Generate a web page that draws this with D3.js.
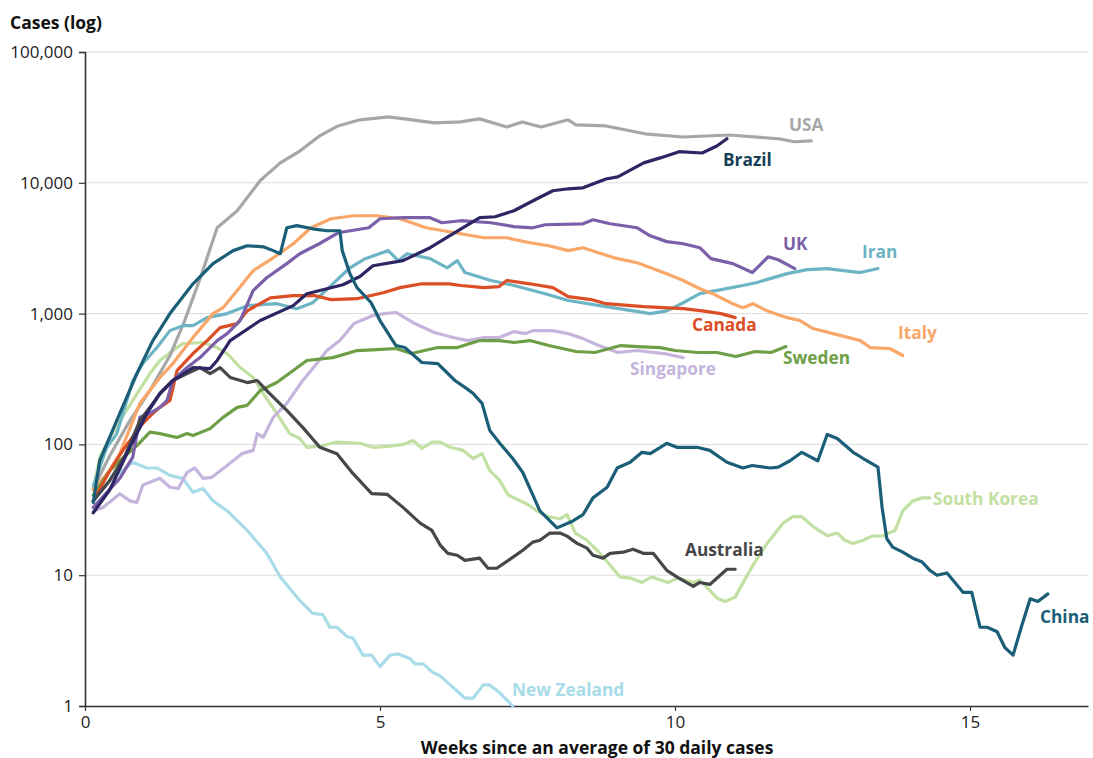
<!DOCTYPE html>
<html><head><meta charset="utf-8">
<script src="https://cdn.jsdelivr.net/npm/d3@7"></script>
<style>
body{margin:0;background:#fff;}
svg{font-family:"Open Sans","Noto Sans",sans-serif;}
</style></head>
<body><svg id="chart" width="1093" height="758"></svg>
<script>
// [weeks since avg of 30 daily cases, daily cases]
const usa=[[.14,46],[.42,82],[.76,152],[1.10,258],[1.44,478],[1.69,885],[1.95,1850],[2.24,4530],[2.58,6110],[2.97,10400],[3.31,14200],[3.64,17500],[3.98,22900],[4.29,27200],[4.66,30300],[5.14,31900],[5.42,30800],[5.92,28700],[6.36,29200],[6.69,30800],[7.15,26700],[7.41,29200],[7.73,26700],[8.19,30300],[8.32,27700],[8.83,27200],[9.49,23700],[10.14,22400],[10.92,23200],[11.76,21700],[12.02,20600],[12.31,20900]];
const brazil=[[.14,30],[.42,45],[.71,85],[1.05,173],[1.27,245],[1.49,308],[1.83,387],[2.12,380],[2.24,438],[2.46,622],[2.97,885],[3.53,1150],[3.76,1420],[4.10,1550],[4.37,1660],[4.66,1920],[4.88,2320],[5.39,2540],[5.85,3190],[6.24,4080],[6.69,5410],[6.95,5500],[7.27,6110],[7.66,7550],[7.93,8690],[8.19,9000],[8.44,9160],[8.83,10700],[9.03,11100],[9.47,14200],[9.75,15500],[10.07,17300],[10.46,16900],[10.71,19100],[10.88,21700]];
const uk=[[.14,33],[.59,55],[.81,80],[.93,161],[1.10,173],[1.27,192],[1.39,217],[1.49,308],[1.73,387],[1.95,461],[2.24,622],[2.41,703],[2.63,885],[2.85,1500],[3.08,1880],[3.42,2410],[3.64,2870],[3.97,3420],[4.29,4150],[4.81,4530],[5.00,5310],[5.39,5410],[5.85,5410],[6.05,4950],[6.37,5130],[6.88,4950],[7.27,4620],[7.59,4530],[7.80,4780],[8.44,4860],[8.61,5220],[8.90,4860],[9.36,4530],[9.58,3930],[9.86,3550],[10.14,3420],[10.42,3190],[10.61,2630],[10.98,2410],[11.31,2060],[11.58,2720],[11.75,2580],[12.03,2210]];
const italy=[[.14,45],[.42,63],[.59,85],[.93,206],[1.27,325],[1.49,415],[1.83,656],[2.17,1000],[2.34,1110],[2.58,1500],[2.85,2130],[3.19,2670],[3.53,3420],[3.83,4530],[4.17,5310],[4.56,5600],[4.95,5600],[5.34,5310],[5.78,4530],[6.37,4080],[6.76,3800],[7.15,3800],[7.54,3480],[7.86,3300],[8.19,3030],[8.44,3190],[8.97,2670],[9.36,2450],[9.86,2020],[10.14,1790],[10.42,1550],[10.64,1420],[10.98,1190],[11.15,1110],[11.32,1190],[11.56,1050],[11.90,931],[12.12,885],[12.34,769],[12.68,703],[13.14,622],[13.31,550],[13.64,541],[13.86,478]];
const iran=[[.14,48],[.37,95],[.54,121],[.81,308],[.98,415],[1.22,550],[1.44,741],[1.66,809],[1.83,809],[2.07,931],[2.41,1000],[2.75,1150],[3.25,1190],[3.59,1090],[3.86,1210],[4.20,1690],[4.49,2240],[4.75,2630],[5.14,3030],[5.31,2540],[5.46,2870],[5.85,2630],[6.14,2240],[6.31,2540],[6.44,2060],[6.88,1790],[7.27,1640],[7.80,1420],[8.19,1260],[8.83,1130],[9.29,1050],[9.58,1000],[9.86,1050],[10.14,1210],[10.42,1420],[10.76,1520],[11.15,1640],[11.39,1730],[11.90,2020],[12.24,2170],[12.58,2210],[13.14,2060],[13.44,2210]];
const canada=[[.14,37],[.42,63],[.64,90],[.98,145],[1.15,173],[1.27,192],[1.44,217],[1.56,367],[1.83,495],[2.07,622],[2.29,782],[2.58,839],[2.75,1050],[3.14,1320],[3.53,1370],[3.90,1370],[4.17,1280],[4.61,1300],[5.07,1450],[5.34,1580],[5.71,1690],[6.17,1690],[6.37,1640],[6.76,1580],[7.02,1610],[7.15,1790],[7.54,1690],[7.93,1580],[8.19,1350],[8.58,1280],[8.83,1190],[9.47,1130],[10.14,1090],[10.46,1050],[10.78,1000],[11.02,931]];
const china=[[.14,36],[.25,75],[.59,173],[.88,348],[1.15,622],[1.44,1000],[1.83,1690],[2.17,2410],[2.51,3030],[2.75,3300],[3.02,3240],[3.19,3030],[3.31,2870],[3.42,4530],[3.59,4700],[3.86,4450],[4.10,4300],[4.32,4300],[4.36,3030],[4.49,2020],[4.61,1580],[4.85,1210],[5.00,885],[5.27,570],[5.42,550],[5.71,423],[5.98,415],[6.27,308],[6.47,267],[6.58,245],[6.73,206],[6.86,128],[7.03,102],[7.25,78],[7.42,61],[7.58,42],[7.71,31],[8.00,23],[8.27,26],[8.44,29],[8.61,39],[8.85,47],[9.02,66],[9.24,73],[9.44,87],[9.58,85],[9.86,102],[10.03,95],[10.37,95],[10.59,90],[10.88,73],[11.15,66],[11.31,69],[11.61,66],[11.75,67],[11.95,75],[12.15,87],[12.42,75],[12.58,119],[12.75,111],[13.02,87],[13.19,78],[13.44,67],[13.51,33],[13.59,19],[13.69,16.4],[13.86,15],[14.03,13.5],[14.19,12.6],[14.32,10.9],[14.44,10],[14.61,10.4],[14.78,8.4],[14.88,7.4],[15.03,7.4],[15.17,4.0],[15.29,4.0],[15.46,3.7],[15.59,2.8],[15.73,2.45],[15.88,4.15],[16.02,6.6],[16.15,6.3],[16.32,7.2]];
const singapore=[[.14,31],[.31,33],[.59,42],[.76,37],[.88,36],[.98,49],[1.27,55],[1.44,47],[1.58,46],[1.73,61],[1.86,66],[2.00,55],[2.15,56],[2.41,69],[2.66,85],[2.85,90],[2.92,121],[3.02,113],[3.19,161],[3.42,206],[3.69,308],[3.93,415],[4.10,522],[4.32,622],[4.56,839],[4.88,966],[5.07,1000],[5.27,1020],[5.39,948],[5.59,839],[5.92,716],[6.24,656],[6.49,622],[6.76,656],[7.02,656],[7.27,729],[7.47,703],[7.59,741],[7.93,741],[8.19,703],[8.44,644],[8.71,570],[9.03,504],[9.36,522],[9.81,495],[10.14,461]];
const sweden=[[.14,41],[.42,63],[.59,75],[.88,98],[1.10,124],[1.27,121],[1.56,113],[1.73,121],[1.83,117],[2.12,132],[2.34,161],[2.58,192],[2.75,199],[2.97,258],[3.25,297],[3.53,367],[3.76,438],[4.20,461],[4.44,495],[4.61,522],[4.95,531],[5.27,541],[5.53,495],[5.98,550],[6.31,550],[6.69,622],[7.02,622],[7.27,601],[7.54,622],[7.86,570],[8.32,513],[8.64,504],[9.08,570],[9.36,560],[9.75,550],[10.0,522],[10.39,504],[10.71,504],[11.03,470],[11.36,513],[11.63,504],[11.88,560]];
const australia=[[.14,37],[.42,53],[.68,82],[.93,152],[1.15,206],[1.27,245],[1.49,308],[1.73,348],[1.95,387],[2.12,348],[2.29,387],[2.46,325],[2.75,297],[2.92,308],[3.08,258],[3.42,182],[3.69,135],[3.98,95],[4.27,85],[4.54,60],[4.86,42],[5.12,41.5],[5.39,33],[5.68,25],[5.88,22],[6.02,17],[6.15,14.7],[6.31,14.2],[6.44,13],[6.69,13.5],[6.83,11.3],[6.98,11.3],[7.20,13.2],[7.42,15.5],[7.59,17.9],[7.71,18.5],[7.88,21],[8.05,21],[8.17,19.9],[8.34,17.5],[8.51,16.1],[8.61,14.2],[8.78,13.5],[8.90,14.7],[9.12,15],[9.29,15.8],[9.46,14.7],[9.63,14.7],[9.86,10.9],[10.03,9.7],[10.31,8.2],[10.42,8.8],[10.59,8.5],[10.88,11.1],[11.02,11.1]];
const southKorea=[[.14,45],[.25,80],[.42,113],[.81,217],[1.10,348],[1.27,438],[1.49,522],[1.66,590],[2.00,601],[2.24,550],[2.41,495],[2.63,387],[2.85,325],[3.02,245],[3.25,173],[3.47,121],[3.64,111],[3.76,95],[4.03,98],[4.27,104],[4.66,102],[4.88,95],[5.17,97],[5.39,100],[5.56,107],[5.71,93],[5.88,104],[6.02,104],[6.19,95],[6.41,90],[6.58,78],[6.73,85],[6.86,63],[7.03,53],[7.17,41],[7.49,35],[7.71,30],[7.85,28],[8.05,27],[8.17,29],[8.31,21],[8.51,18.5],[8.73,14.7],[9.07,9.7],[9.24,9.5],[9.44,8.8],[9.61,9.7],[9.88,8.8],[10.05,9.5],[10.31,8.8],[10.42,9.2],[10.71,6.7],[10.85,6.3],[11.02,6.8],[11.15,8.7],[11.32,11.9],[11.56,17.5],[11.83,25],[12.00,28],[12.15,28],[12.37,23],[12.59,20],[12.75,21],[12.88,18.5],[13.02,17.5],[13.19,18.5],[13.34,19.9],[13.53,20],[13.73,22],[13.86,31],[14.03,37],[14.19,39],[14.32,39]];
const newZealand=[[.14,37],[.42,53],[.59,61],[.81,73],[1.05,66],[1.22,66],[1.44,58],[1.66,55],[1.83,43],[2.00,46],[2.17,37],[2.41,31],[2.75,22],[3.08,14.7],[3.31,9.7],[3.64,6.4],[3.86,5.1],[4.03,5.0],[4.15,4.0],[4.27,4.0],[4.44,3.4],[4.54,3.3],[4.71,2.45],[4.86,2.45],[5.00,2.0],[5.17,2.45],[5.31,2.5],[5.51,2.3],[5.59,2.1],[5.73,2.1],[5.90,1.8],[6.02,1.7],[6.19,1.45],[6.44,1.15],[6.58,1.15],[6.75,1.45],[6.86,1.45],[7.03,1.26],[7.25,1.0]];

const yTicks=[1,10,100,1000,10000,100000];
const xTicks=[0,5,10,15];

const series=[
 {name:"New Zealand",data:newZealand,color:"#a8dce8",label:"#a8dce8",lx:512,ly:690},
 {name:"South Korea",data:southKorea,color:"#c2e0a2",label:"#c2e0a2",lx:933,ly:499},
 {name:"Singapore",data:singapore,color:"#c5b5dd",label:"#c5b5dd",lx:630,ly:369},
 {name:"USA",data:usa,color:"#a6a8a7",label:"#a6a8a7",lx:789,ly:125},
 {name:"Iran",data:iran,color:"#6db4c4",label:"#6db4c4",lx:862,ly:252},
 {name:"Italy",data:italy,color:"#f9a769",label:"#f9a769",lx:898,ly:333},
 {name:"Sweden",data:sweden,color:"#6e9f46",label:"#6e9f46",lx:783,ly:358},
 {name:"Canada",data:canada,color:"#dc4e25",label:"#dc4e25",lx:692,ly:325},
 {name:"UK",data:uk,color:"#7b5fa8",label:"#7b5fa8",lx:783,ly:244},
 {name:"Australia",data:australia,color:"#464748",label:"#464748",lx:685,ly:550},
 {name:"Brazil",data:brazil,color:"#2c2664",label:"#173f58",lx:723,ly:160},
 {name:"China",data:china,color:"#1b5e78",label:"#1b5e78",lx:1040,ly:617}
];

const svg=d3.select("#chart");
const L=85,R=1088,T=52,B=706;
const x=d3.scaleLinear().domain([0,17]).range([L,R]);
const y=d3.scaleLog().domain([1,100000]).range([B,T]);

// gridlines
svg.append("g").selectAll("line").data(yTicks.slice(1)).join("line")
 .attr("x1",L).attr("x2",R).attr("y1",d=>y(d)).attr("y2",d=>y(d))
 .attr("stroke","#dcdcdc").attr("stroke-width",1);

// y axis
const ya=svg.append("g").attr("transform",`translate(${L},0)`)
 .call(d3.axisLeft(y).tickValues(yTicks).tickFormat(d3.format(",")).tickSize(6).tickPadding(6));
ya.select(".domain").attr("stroke","#333").attr("stroke-width",1.6);
ya.selectAll(".tick line").attr("stroke","#333").attr("stroke-width",1.2);
ya.selectAll("text").attr("font-size",17).attr("fill","#222").attr("font-family","Open Sans");

// x axis
const xa=svg.append("g").attr("transform",`translate(0,${B})`)
 .call(d3.axisBottom(x).tickValues(xTicks).tickSize(5).tickPadding(5).tickSizeOuter(0));
xa.select(".domain").attr("stroke","#333").attr("stroke-width",1.6);
xa.selectAll(".tick line").attr("stroke","#333").attr("stroke-width",1.2);
xa.selectAll("text").attr("font-size",17).attr("fill","#222").attr("font-family","Open Sans");

// lines
const line=d3.line().x(d=>x(d[0])).y(d=>y(d[1]));
svg.append("g").selectAll("path").data(series).join("path")
 .attr("d",d=>line(d.data)).attr("fill","none").attr("stroke",d=>d.color)
 .attr("stroke-width",3.2).attr("stroke-linejoin","round").attr("stroke-linecap","round");

// labels
svg.append("g").selectAll("text").data(series).join("text")
 .attr("x",d=>d.lx).attr("y",d=>d.ly).attr("dy","0.35em")
 .attr("fill",d=>d.label).attr("font-weight","bold").attr("font-size",17.3)
 .attr("font-family","Open Sans").text(d=>d.name);

// titles
svg.append("text").attr("x",10).attr("y",29).attr("font-weight","bold").attr("font-size",17.5)
 .attr("fill","#111").text("Cases (log)");
svg.append("text").attr("x",597).attr("y",754).attr("text-anchor","middle")
 .attr("font-weight","bold").attr("font-size",17.5).attr("fill","#111")
 .text("Weeks since an average of 30 daily cases");
</script></body></html>
